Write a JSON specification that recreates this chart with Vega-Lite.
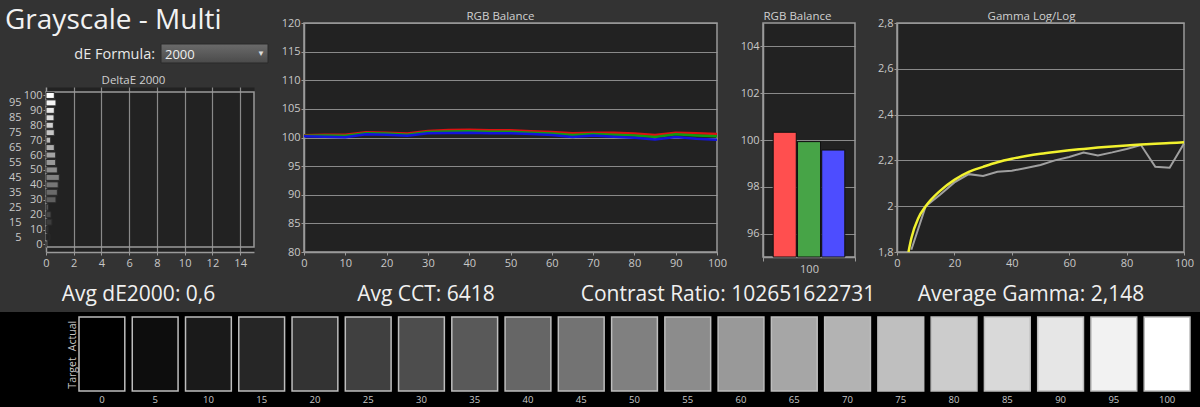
{
  "$schema": "https://vega.github.io/schema/vega-lite/v6.json",
  "width": 1200,
  "height": 407,
  "autosize": {"type": "none"},
  "padding": 0,
  "background": "#333333",
  "title": {"text": "Grayscale - Multi", "anchor": "start", "frame": "group", "orient": "top", "offset": -27, "dx": 5, "dy": 30, "baseline": "alphabetic", "fontSize": 28, "font": "Open Sans", "fontWeight": "normal", "color": "#f2f2f2"},
  "datasets": {
    "one": [{"label": "dE Formula:", "value": "2000", "arrow": "▼"}],
    "levels": [
      {"level": 0, "de": 0}, {"level": 5, "de": 0.29}, {"level": 10, "de": 0.17}, {"level": 15, "de": 0.43},
      {"level": 20, "de": 0.36}, {"level": 25, "de": 0.19}, {"level": 30, "de": 0.72}, {"level": 35, "de": 0.82},
      {"level": 40, "de": 0.88}, {"level": 45, "de": 0.96}, {"level": 50, "de": 0.82}, {"level": 55, "de": 0.7},
      {"level": 60, "de": 0.7}, {"level": 65, "de": 0.6}, {"level": 70, "de": 0.34}, {"level": 75, "de": 0.6},
      {"level": 80, "de": 0.53}, {"level": 85, "de": 0.58}, {"level": 90, "de": 0.6}, {"level": 95, "de": 0.72},
      {"level": 100, "de": 0.6}
    ],
    "rgb": [
      {"x": 0, "ch": "R", "v": 100.4}, {"x": 5, "ch": "R", "v": 100.5}, {"x": 10, "ch": "R", "v": 100.5}, {"x": 15, "ch": "R", "v": 100.9},
      {"x": 20, "ch": "R", "v": 100.85}, {"x": 25, "ch": "R", "v": 100.7}, {"x": 30, "ch": "R", "v": 101.15}, {"x": 35, "ch": "R", "v": 101.3},
      {"x": 40, "ch": "R", "v": 101.35}, {"x": 45, "ch": "R", "v": 101.25}, {"x": 50, "ch": "R", "v": 101.25}, {"x": 55, "ch": "R", "v": 101.1},
      {"x": 60, "ch": "R", "v": 100.95}, {"x": 65, "ch": "R", "v": 100.75}, {"x": 70, "ch": "R", "v": 100.85}, {"x": 75, "ch": "R", "v": 100.85},
      {"x": 80, "ch": "R", "v": 100.7}, {"x": 85, "ch": "R", "v": 100.45}, {"x": 90, "ch": "R", "v": 100.85}, {"x": 95, "ch": "R", "v": 100.75},
      {"x": 100, "ch": "R", "v": 100.6},
      {"x": 0, "ch": "G", "v": 100.3}, {"x": 5, "ch": "G", "v": 100.35}, {"x": 10, "ch": "G", "v": 100.3}, {"x": 15, "ch": "G", "v": 100.75},
      {"x": 20, "ch": "G", "v": 100.7}, {"x": 25, "ch": "G", "v": 100.5}, {"x": 30, "ch": "G", "v": 100.95}, {"x": 35, "ch": "G", "v": 101.05},
      {"x": 40, "ch": "G", "v": 101.1}, {"x": 45, "ch": "G", "v": 101.0}, {"x": 50, "ch": "G", "v": 101.0}, {"x": 55, "ch": "G", "v": 100.85},
      {"x": 60, "ch": "G", "v": 100.7}, {"x": 65, "ch": "G", "v": 100.45}, {"x": 70, "ch": "G", "v": 100.6}, {"x": 75, "ch": "G", "v": 100.5},
      {"x": 80, "ch": "G", "v": 100.35}, {"x": 85, "ch": "G", "v": 100.1}, {"x": 90, "ch": "G", "v": 100.55}, {"x": 95, "ch": "G", "v": 100.35},
      {"x": 100, "ch": "G", "v": 100.2},
      {"x": 0, "ch": "B", "v": 100.2}, {"x": 5, "ch": "B", "v": 100.15}, {"x": 10, "ch": "B", "v": 100.05}, {"x": 15, "ch": "B", "v": 100.55},
      {"x": 20, "ch": "B", "v": 100.5}, {"x": 25, "ch": "B", "v": 100.3}, {"x": 30, "ch": "B", "v": 100.75}, {"x": 35, "ch": "B", "v": 100.8},
      {"x": 40, "ch": "B", "v": 100.85}, {"x": 45, "ch": "B", "v": 100.75}, {"x": 50, "ch": "B", "v": 100.75}, {"x": 55, "ch": "B", "v": 100.6},
      {"x": 60, "ch": "B", "v": 100.45}, {"x": 65, "ch": "B", "v": 100.1}, {"x": 70, "ch": "B", "v": 100.35}, {"x": 75, "ch": "B", "v": 100.15},
      {"x": 80, "ch": "B", "v": 99.95}, {"x": 85, "ch": "B", "v": 99.65}, {"x": 90, "ch": "B", "v": 100.1}, {"x": 95, "ch": "B", "v": 99.8},
      {"x": 100, "ch": "B", "v": 99.6}
    ],
    "bal": [{"cat": "100", "ch": "R", "v": 100.33}, {"cat": "100", "ch": "G", "v": 99.93}, {"cat": "100", "ch": "B", "v": 99.57}],
    "gmeas": [
      {"x": 5, "g": 1.81}, {"x": 10, "g": 2.0}, {"x": 15, "g": 2.05}, {"x": 20, "g": 2.104}, {"x": 25, "g": 2.14},
      {"x": 30, "g": 2.132}, {"x": 35, "g": 2.15}, {"x": 40, "g": 2.155}, {"x": 45, "g": 2.167}, {"x": 50, "g": 2.18},
      {"x": 55, "g": 2.2}, {"x": 60, "g": 2.215}, {"x": 65, "g": 2.234}, {"x": 70, "g": 2.222}, {"x": 75, "g": 2.235},
      {"x": 80, "g": 2.25}, {"x": 85, "g": 2.267}, {"x": 90, "g": 2.172}, {"x": 95, "g": 2.168}, {"x": 100, "g": 2.274}
    ],
    "gtgt": [
      {"x": 4, "g": 1.8}, {"x": 5, "g": 1.86}, {"x": 7.5, "g": 1.95}, {"x": 10, "g": 2.0}, {"x": 15, "g": 2.067},
      {"x": 20, "g": 2.115}, {"x": 25, "g": 2.15}, {"x": 30, "g": 2.172}, {"x": 35, "g": 2.192}, {"x": 40, "g": 2.207},
      {"x": 45, "g": 2.219}, {"x": 50, "g": 2.229}, {"x": 55, "g": 2.237}, {"x": 60, "g": 2.244}, {"x": 65, "g": 2.25},
      {"x": 70, "g": 2.256}, {"x": 75, "g": 2.261}, {"x": 80, "g": 2.265}, {"x": 85, "g": 2.269}, {"x": 90, "g": 2.273},
      {"x": 95, "g": 2.276}, {"x": 100, "g": 2.279}
    ]
  },
  "layer": [
    {
      "data": {"name": "one"},
      "mark": {"type": "rect", "fill": "#000000"},
      "encoding": {
        "x": {"datum": 0, "type": "quantitative", "scale": {"domain": [0, 1], "range": [0, 1200], "nice": false, "zero": false}, "axis": null},
        "x2": {"datum": 1},
        "y": {"datum": 0, "type": "quantitative", "scale": {"domain": [0, 1], "range": [407, 312], "nice": false, "zero": false}, "axis": null},
        "y2": {"datum": 1}
      }
    },
    {
      "data": {"name": "levels"},
      "mark": {"type": "rect", "stroke": "#bdbdbd", "strokeWidth": 1.5},
      "encoding": {
        "x": {"field": "level", "type": "ordinal", "scale": {"type": "band", "range": [79, 1190], "paddingInner": 0.14, "paddingOuter": 0},
          "axis": {"orient": "bottom", "offset": -16, "domain": false, "ticks": false, "grid": false, "labelPadding": 3, "labelFontSize": 9.5, "labelAngle": 0, "title": null, "zindex": 1}},
        "y": {"datum": 0, "type": "quantitative", "scale": {"domain": [0, 1], "range": [391, 317], "nice": false, "zero": false},
          "axis": {"orient": "left", "offset": -79, "values": [0.25, 0.75], "labelExpr": "datum.value > 0.5 ? 'Actual' : 'Target'", "labelAngle": -90, "labelAlign": "center", "labelBaseline": "bottom", "domain": false, "ticks": false, "grid": false, "labelPadding": 2, "labelFontSize": 10.5, "title": null, "zindex": 1}},
        "y2": {"datum": 1},
        "color": {"field": "level", "type": "quantitative", "scale": {"domain": [0, 100], "range": ["#000000", "#ffffff"], "interpolate": "rgb"}, "legend": null}
      }
    },
    {
      "layer": [
        {
          "data": {"name": "one"},
          "mark": {"type": "rect", "fillOpacity": 0, "stroke": "#9a9a9a", "strokeWidth": 1.5},
          "encoding": {
            "x": {"datum": 0, "type": "quantitative", "scale": {"domain": [0, 15], "range": [46, 254], "nice": false, "zero": false},
              "axis": {"orient": "top", "grid": true, "values": [7.5], "gridWidth": 208, "gridColor": "#222222", "labels": false, "ticks": false, "domain": false, "title": null, "minExtent": 0, "maxExtent": 0}},
            "x2": {"datum": 15},
            "y": {"datum": -1.7, "type": "quantitative", "scale": {"domain": [-1.7, 102.3], "range": [252, 87], "nice": false, "zero": false}, "axis": null},
            "y2": {"datum": 102.3}
          }
        },
        {
          "data": {"name": "levels"},
          "mark": {"type": "bar", "orient": "horizontal", "size": 6, "stroke": "#2a2a2a", "strokeWidth": 1},
          "encoding": {
            "x": {"field": "de", "type": "quantitative", "scale": {"domain": [0, 15], "range": [46, 254], "nice": false, "zero": false},
              "axis": {"orient": "bottom", "offset": -155, "values": [0, 2, 4, 6, 8, 10, 12, 14], "grid": false, "tickSize": 3, "labelPadding": 2,
                "title": "Avg dE2000: 0,6", "titleX": 138, "titleY": 48, "titleAlign": "center", "titleBaseline": "alphabetic", "titleFontSize": 21, "titleColor": "#f0f0f0", "titleFontWeight": "normal"}},
            "x2": {"datum": 0},
            "y": {"field": "level", "type": "quantitative", "scale": {"domain": [-1.7, 102.3], "range": [252, 87], "nice": false, "zero": false},
              "axis": {"orient": "left", "offset": -46, "values": [0, 10, 20, 30, 40, 50, 60, 70, 80, 90, 100], "grid": false, "tickSize": 3, "labelPadding": 1,
                "title": "DeltaE 2000", "titleAngle": 0, "titleX": 87, "titleY": 83, "titleAlign": "center", "titleBaseline": "alphabetic", "titleFontSize": 11.5, "titleColor": "#d0d0d0", "titleFontWeight": "normal"}},
            "color": {"field": "level", "type": "quantitative", "scale": {"domain": [0, 100], "range": ["#1a1a1a", "#ffffff"], "interpolate": "rgb"}, "legend": null}
          }
        },
        {
          "data": {"name": "one"},
          "mark": {"type": "rect", "opacity": 0},
          "encoding": {
            "x": {"datum": 0, "type": "quantitative", "scale": {"domain": [0, 15], "range": [46, 254], "nice": false, "zero": false},
              "axis": {"orient": "top", "grid": true, "values": [2, 4, 6, 8, 10, 12, 14], "gridColor": "#8a8a8a", "gridWidth": 1.2, "labels": false, "ticks": false, "domain": false, "title": null, "minExtent": 0, "maxExtent": 0}},
            "x2": {"datum": 15},
            "y": {"datum": -1.7, "type": "quantitative", "scale": {"domain": [-1.7, 102.3], "range": [252, 87], "nice": false, "zero": false},
              "axis": {"orient": "left", "offset": -46, "values": [5, 15, 25, 35, 45, 55, 65, 75, 85, 95], "ticks": false, "domain": false, "grid": false, "labelPadding": 25, "title": null}},
            "y2": {"datum": 102.3}
          }
        }
      ],
      "resolve": {"axis": {"x": "independent", "y": "independent"}}
    },
    {
      "layer": [
        {
          "data": {"name": "one"},
          "mark": {"type": "rect", "fillOpacity": 0, "stroke": "#9a9a9a", "strokeWidth": 1.5},
          "encoding": {
            "x": {"datum": 0, "type": "quantitative", "scale": {"domain": [0, 100], "range": [304, 717], "nice": false, "zero": false}, "axis": null},
            "x2": {"datum": 100},
            "y": {"datum": 80, "type": "quantitative", "scale": {"domain": [80, 120], "range": [252, 23], "nice": false, "zero": false},
              "axis": {"orient": "left", "offset": -304, "grid": true, "values": [100], "gridWidth": 229, "gridColor": "#222222", "labels": false, "ticks": false, "domain": false, "title": null}},
            "y2": {"datum": 120}
          }
        },
        {
          "data": {"name": "rgb"},
          "mark": {"type": "line", "strokeWidth": 2.5},
          "encoding": {
            "x": {"field": "x", "type": "quantitative", "scale": {"domain": [0, 100], "range": [304, 717], "nice": false, "zero": false},
              "axis": {"orient": "bottom", "offset": -155, "values": [0, 10, 20, 30, 40, 50, 60, 70, 80, 90, 100], "grid": false, "tickSize": 3, "labelPadding": 2,
                "title": "Avg CCT: 6418", "titleX": 425.5, "titleY": 48, "titleAlign": "center", "titleBaseline": "alphabetic", "titleFontSize": 21, "titleColor": "#f0f0f0", "titleFontWeight": "normal"}},
            "y": {"field": "v", "type": "quantitative", "scale": {"domain": [80, 120], "range": [252, 23], "nice": false, "zero": false},
              "axis": {"orient": "left", "offset": -304, "values": [80, 85, 90, 95, 100, 105, 110, 115, 120], "grid": true, "gridColor": "#8a8a8a", "gridWidth": 1.2, "tickSize": 3, "labelPadding": 1,
                "title": "RGB Balance", "titleAngle": 0, "titleX": 196, "titleY": 19, "titleAlign": "center", "titleBaseline": "alphabetic", "titleFontSize": 11.5, "titleColor": "#d0d0d0", "titleFontWeight": "normal"}},
            "color": {"field": "ch", "type": "nominal", "scale": {"domain": ["R", "G", "B"], "range": ["#dd1111", "#119a11", "#1414dd"]}, "legend": null}
          }
        }
      ],
      "resolve": {"axis": {"x": "independent", "y": "independent"}}
    },
    {
      "layer": [
        {
          "data": {"name": "one"},
          "mark": {"type": "rect", "fillOpacity": 0, "stroke": "#9a9a9a", "strokeWidth": 1.5},
          "encoding": {
            "x": {"datum": "100", "type": "nominal", "scale": {"type": "band", "domain": ["100"], "range": [763, 855], "paddingInner": 0, "paddingOuter": 0}, "axis": null},
            "y": {"datum": 95, "type": "quantitative", "scale": {"domain": [95, 105], "range": [257, 23], "nice": false, "zero": false},
              "axis": {"orient": "left", "offset": -763, "grid": true, "values": [100], "gridWidth": 234, "gridColor": "#222222", "labels": false, "ticks": false, "domain": false, "title": null}},
            "y2": {"datum": 105}
          }
        },
        {
          "data": {"name": "bal"},
          "mark": {"type": "bar", "stroke": "#111111", "strokeWidth": 1},
          "encoding": {
            "x": {"field": "cat", "type": "nominal", "scale": {"type": "band", "domain": ["100"], "range": [763, 855], "paddingInner": 0, "paddingOuter": 0},
              "axis": {"orient": "bottom", "offset": -150, "tickBand": "extent", "grid": false, "tickSize": 4, "labelPadding": 2, "labelAngle": 0,
                "title": "Contrast Ratio: 102651622731", "titleX": 727.5, "titleY": 43, "titleAlign": "center", "titleBaseline": "alphabetic", "titleFontSize": 21, "titleColor": "#f0f0f0", "titleFontWeight": "normal"}},
            "xOffset": {"field": "ch", "type": "nominal", "scale": {"domain": ["R", "G", "B"], "paddingInner": 0.05, "paddingOuter": 0.42}},
            "y": {"field": "v", "type": "quantitative", "scale": {"domain": [95, 105], "range": [257, 23], "nice": false, "zero": false},
              "axis": {"orient": "left", "offset": -763, "values": [96, 98, 100, 102, 104], "grid": true, "gridColor": "#8a8a8a", "gridWidth": 1.2, "tickSize": 3, "labelPadding": 1,
                "title": "RGB Balance", "titleAngle": 0, "titleX": 34, "titleY": 19, "titleAlign": "center", "titleBaseline": "alphabetic", "titleFontSize": 11.5, "titleColor": "#d0d0d0", "titleFontWeight": "normal"}},
            "y2": {"datum": 95},
            "color": {"field": "ch", "type": "nominal", "scale": {"domain": ["R", "G", "B"], "range": ["#ff4f4f", "#47a447", "#4d4dff"]}, "legend": null}
          }
        }
      ],
      "resolve": {"axis": {"x": "independent", "y": "independent"}}
    },
    {
      "layer": [
        {
          "data": {"name": "one"},
          "mark": {"type": "rect", "fillOpacity": 0, "stroke": "#9a9a9a", "strokeWidth": 1.5},
          "encoding": {
            "x": {"datum": 0, "type": "quantitative", "scale": {"domain": [0, 100], "range": [897, 1184], "nice": false, "zero": false}, "axis": null},
            "x2": {"datum": 100},
            "y": {"datum": 1.8, "type": "quantitative", "scale": {"domain": [1.8, 2.8], "range": [252, 23], "nice": false, "zero": false},
              "axis": {"orient": "left", "offset": -897, "grid": true, "values": [2.3], "gridWidth": 229, "gridColor": "#222222", "labels": false, "ticks": false, "domain": false, "title": null}},
            "y2": {"datum": 2.8}
          }
        },
        {
          "data": {"name": "gmeas"},
          "mark": {"type": "line", "strokeWidth": 2, "color": "#a0a0a0"},
          "encoding": {
            "x": {"field": "x", "type": "quantitative", "scale": {"domain": [0, 100], "range": [897, 1184], "nice": false, "zero": false},
              "axis": {"orient": "bottom", "offset": -155, "values": [0, 20, 40, 60, 80, 100], "grid": false, "tickSize": 3, "labelPadding": 2,
                "title": "Average Gamma: 2,148", "titleX": 1030.5, "titleY": 48, "titleAlign": "center", "titleBaseline": "alphabetic", "titleFontSize": 21, "titleColor": "#f0f0f0", "titleFontWeight": "normal"}},
            "y": {"field": "g", "type": "quantitative", "scale": {"domain": [1.8, 2.8], "range": [252, 23], "nice": false, "zero": false},
              "axis": {"orient": "left", "offset": -897, "values": [1.8, 2, 2.2, 2.4, 2.6, 2.8], "format": "~g", "labelExpr": "replace(datum.label, '.', ',')", "grid": true, "gridColor": "#8a8a8a", "gridWidth": 1.2, "tickSize": 3, "labelPadding": 1,
                "title": "Gamma Log/Log", "titleAngle": 0, "titleX": 134, "titleY": 19, "titleAlign": "center", "titleBaseline": "alphabetic", "titleFontSize": 11.5, "titleColor": "#d0d0d0", "titleFontWeight": "normal"}}
          }
        },
        {
          "data": {"name": "gtgt"},
          "mark": {"type": "line", "strokeWidth": 2.5, "color": "#f2f22e", "interpolate": "monotone"},
          "encoding": {
            "x": {"field": "x", "type": "quantitative", "scale": {"domain": [0, 100], "range": [897, 1184], "nice": false, "zero": false}, "axis": null},
            "y": {"field": "g", "type": "quantitative", "scale": {"domain": [1.8, 2.8], "range": [252, 23], "nice": false, "zero": false}, "axis": null}
          }
        }
      ],
      "resolve": {"axis": {"x": "independent", "y": "independent"}}
    },
    {
      "data": {"name": "one"},
      "layer": [
        {
          "mark": {"type": "rect", "fill": {"gradient": "linear", "x1": 0, "y1": 0, "x2": 0, "y2": 1, "stops": [{"offset": 0, "color": "#6b6b6b"}, {"offset": 1, "color": "#4a4a4a"}]}, "stroke": "#2b2b2b", "strokeWidth": 1},
          "encoding": {
            "x": {"datum": 0, "type": "quantitative", "scale": {"domain": [0, 1], "range": [161, 268], "nice": false, "zero": false}, "axis": null},
            "x2": {"datum": 1},
            "y": {"datum": 0, "type": "quantitative", "scale": {"domain": [0, 1], "range": [63, 44], "nice": false, "zero": false}, "axis": null},
            "y2": {"datum": 1}
          }
        },
        {
          "mark": {"type": "text", "align": "left", "baseline": "middle", "dx": 4, "dy": 1, "fontSize": 13, "color": "#eeeeee"},
          "encoding": {
            "x": {"datum": 0, "type": "quantitative", "scale": {"domain": [0, 1], "range": [161, 268], "nice": false, "zero": false}, "axis": null},
            "y": {"datum": 0.5, "type": "quantitative", "scale": {"domain": [0, 1], "range": [63, 44], "nice": false, "zero": false}, "axis": null},
            "text": {"field": "value"}
          }
        },
        {
          "mark": {"type": "text", "align": "right", "baseline": "middle", "dx": -6, "dy": 1, "fontSize": 14.5, "color": "#e8e8e8"},
          "encoding": {
            "x": {"datum": 0, "type": "quantitative", "scale": {"domain": [0, 1], "range": [161, 268], "nice": false, "zero": false}, "axis": null},
            "y": {"datum": 0.5, "type": "quantitative", "scale": {"domain": [0, 1], "range": [63, 44], "nice": false, "zero": false}, "axis": null},
            "text": {"field": "label"}
          }
        },
        {
          "mark": {"type": "text", "align": "center", "baseline": "middle", "dx": -7, "fontSize": 8, "color": "#dddddd"},
          "encoding": {
            "x": {"datum": 1, "type": "quantitative", "scale": {"domain": [0, 1], "range": [161, 268], "nice": false, "zero": false}, "axis": null},
            "y": {"datum": 0.5, "type": "quantitative", "scale": {"domain": [0, 1], "range": [63, 44], "nice": false, "zero": false}, "axis": null},
            "text": {"field": "arrow"}
          }
        }
      ]
    }
  ],
  "resolve": {
    "scale": {"x": "independent", "y": "independent", "color": "independent", "xOffset": "independent"},
    "axis": {"x": "independent", "y": "independent"}
  },
  "config": {
    "view": {"stroke": null},
    "font": "Open Sans",
    "axis": {
      "labelFont": "Open Sans", "labelFontSize": 11, "labelColor": "#c8c8c8",
      "domainColor": "#9a9a9a", "domainWidth": 1.5, "tickColor": "#9a9a9a", "tickWidth": 1,
      "labelFlush": false, "labelOverlap": false, "titleFont": "Open Sans", "titleFontWeight": "normal", "gridOpacity": 1
    }
  }
}
